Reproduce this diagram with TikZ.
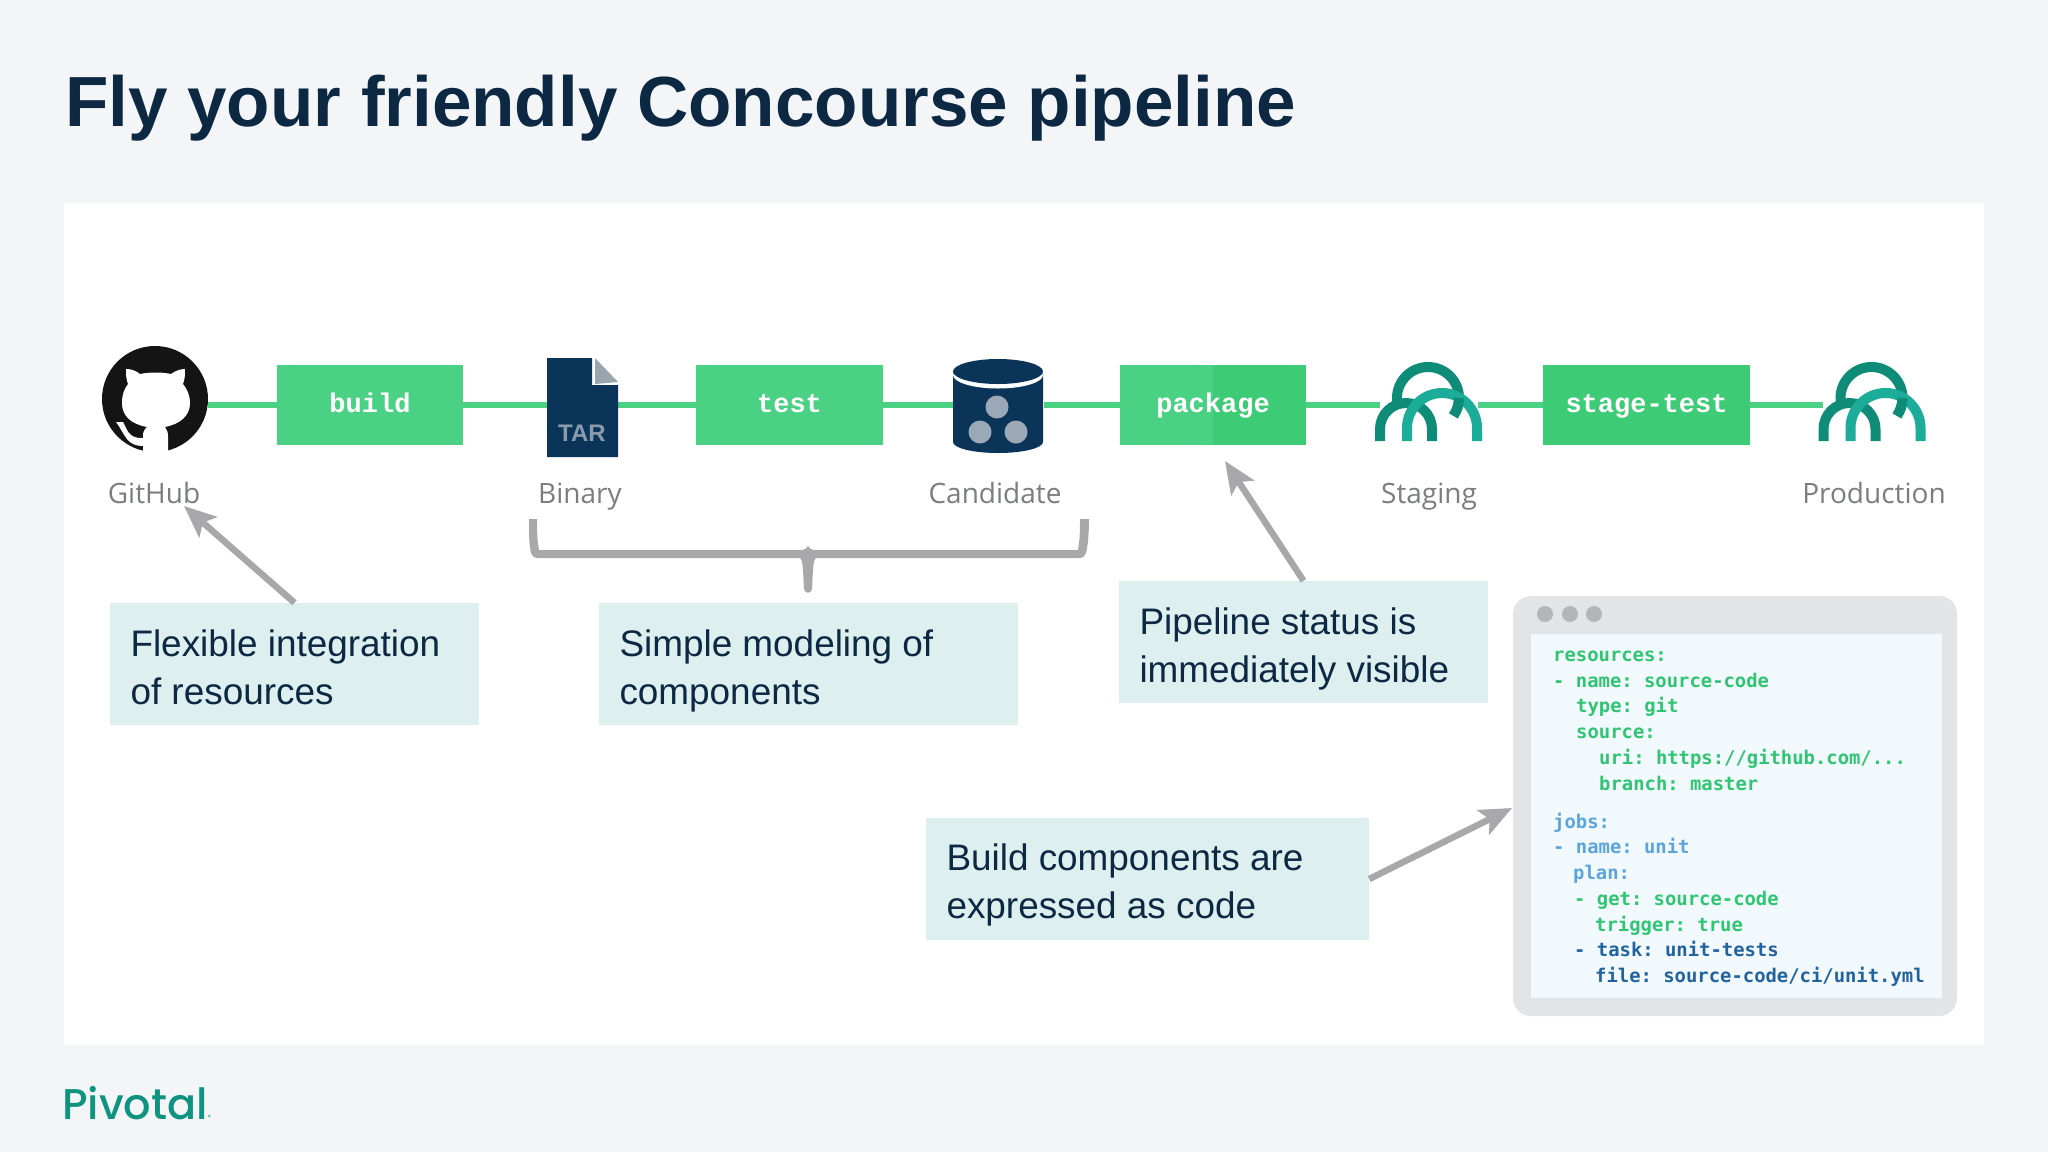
\documentclass[tikz,border=0pt]{standalone}
\usepackage{fontspec}
\setmainfont{Liberation Sans}
\newfontfamily\labelfont{Open Sans}
\newfontfamily\codefont{DejaVu Sans Mono}[BoldFont={DejaVu Sans Mono Bold}]
\newfontfamily\jobfont{Liberation Mono}
\newfontfamily\logofont{Poppins}[UprightFont={* Medium}]
\usetikzlibrary{arrows.meta}
\definecolor{pagebg}{HTML}{F4F5F7}
\definecolor{navy}{HTML}{0C2843}
\definecolor{iconnavy}{HTML}{0B3558}
\definecolor{greena}{HTML}{4BD183}
\definecolor{greenb}{HTML}{3ECB75}
\definecolor{notebg}{HTML}{DDEFEE}
\definecolor{arrowgrey}{HTML}{A8A8AB}
\definecolor{labelgrey}{HTML}{7B7D80}
\definecolor{archdark}{HTML}{0F8C78}
\definecolor{archlight}{HTML}{1BAC9A}
\definecolor{logoteal}{HTML}{0E9380}
\definecolor{codegreen}{HTML}{30C473}
\definecolor{codeblue}{HTML}{5BA4DC}
\definecolor{codedark}{HTML}{22639F}
\definecolor{winframe}{HTML}{E1E5E7}
\definecolor{winbody}{HTML}{F2F9FC}
\definecolor{windot}{HTML}{B2B6B9}
\definecolor{filegrey}{HTML}{9AA5AF}
\definecolor{dotgrey}{HTML}{9AA8B7}
\definecolor{targrey}{HTML}{8A9BAD}
\tikzset{
  jobbox/.style={fill=greena,inner sep=0,minimum height=80,text height=21,text depth=5,font=\jobfont\bfseries\fontsize{27}{27}\selectfont,text=white},
  icon/.style={inner sep=0,minimum height=80},
  notebox/.style={fill=notebg,inner sep=0,minimum height=122},
  notetext/.style={inner sep=0,anchor=west,align=left,text=navy,font=\fontsize{36.9}{48}\selectfont},
  pipe/.style={draw=greena,line width=6},
  pointer/.style={draw=arrowgrey,line width=6.5,-{Stealth[length=32,width=27,inset=7]}},
  caption/.style={inner sep=0,anchor=base,text=labelgrey,font=\labelfont\fontsize{28}{28}\selectfont},
  codeline/.style={inner sep=0,anchor=base west,font=\codefont\bfseries\fontsize{18.87}{18.87}\selectfont\frenchspacing},
  archd/.style={draw=archdark,line width=10},
  archl/.style={draw=archlight,line width=10}
}
\newcommand{\arches}[1]{%
  \begin{scope}[shift={(#1,0)}]
    \draw[archd] (1380,441) -- (1380,429) arc[start angle=180,end angle=360,radius=26] -- (1432,441);
    \draw[archd] (1397,401) -- (1397,398) arc[start angle=180,end angle=395,radius=31];
    \draw[archl] (1407,441) -- (1407,428) arc[start angle=180,end angle=360,radius=35] -- (1477,441);
    \draw[archd] (1459,398) arc[start angle=360,end angle=395,radius=31];
  \end{scope}}
\begin{document}
\begin{tikzpicture}[x=1pt,y=-1pt]
\useasboundingbox (0,0) rectangle (2048,1152);
\fill[pagebg] (0,0) rectangle (2048,1152);
\fill[white] (64,203) rectangle (1984,1045);

\node[inner sep=0,anchor=base west,text=navy,font=\bfseries\fontsize{71}{71}\selectfont] (title) at (65,126) {Fly your friendly Concourse pipeline};

% pipeline nodes
\node[icon,minimum width=106] (gh) at (155,404.5) {};
\node[jobbox,minimum width=186] (build) at (370,404.5) {build};
\node[icon,minimum width=71] (tar) at (582.5,404.5) {};
\node[jobbox,minimum width=187] (test) at (789.5,404.5) {test};
\node[icon,minimum width=91] (cand) at (998.5,404.5) {};
\node[jobbox,minimum width=186,path picture={\fill[greenb] (path picture bounding box.south) rectangle (path picture bounding box.north east);}] (package) at (1213,404.5) {package};
\node[icon,minimum width=98] (stag) at (1429,404.5) {};
\node[jobbox,fill=greenb,minimum width=207] (stagetest) at (1646.5,404.5) {stage-test};
\node[icon,minimum width=98] (prod) at (1872.5,404.5) {};

\draw[pipe] (gh.east) -- (build.west);
\draw[pipe] (build.east) -- (tar.west);
\draw[pipe] (tar.east) -- (test.west);
\draw[pipe] (test.east) -- (cand.west);
\draw[pipe] (cand.east) -- (package.west);
\draw[pipe] (package.east) -- (stag.west);
\draw[pipe] (stag.east) -- (stagetest.west);
\draw[pipe] (stagetest.east) -- (prod.west);

% GitHub mark
\fill[black!92] (155,399) circle (53);
\fill[white] (143,453) -- (143,436)
  .. controls (143,432) and (144,430) .. (147,427)
  .. controls (131,424) and (122,416) .. (122,403)
  .. controls (122,395) and (124,389) .. (128,384)
  .. controls (126,379) and (126,374) .. (126,369)
  .. controls (132,369) and (136,371) .. (140,374)
  .. controls (150,372) and (162,372) .. (171,374)
  .. controls (175,371) and (180,369) .. (185,369)
  .. controls (185,374) and (185,379) .. (183,384)
  .. controls (187,389) and (190,395) .. (190,403)
  .. controls (190,416) and (180,424) .. (165,427)
  .. controls (167,430) and (168,432) .. (168,436)
  -- (168,453) -- cycle;
\fill[white] (116,422) -- (123,422)
  .. controls (126,427) and (127,432) .. (131,435)
  .. controls (135,438) and (139,438) .. (143,438) -- (143,446)
  .. controls (136,446) and (131,444) .. (127,439)
  .. controls (123,434) and (120,427) .. (116,422) -- cycle;

% TAR file
\fill[iconnavy] (547,358) -- (592,358) -- (592,385) -- (618,385) -- (618,457) -- (547,457) -- cycle;
\fill[filegrey] (595,358) -- (618,382) -- (595,384) -- cycle;
\node[inner sep=0,text=targrey,font=\bfseries\fontsize{24}{24}\selectfont] (tartext) at (582,433) {TAR};

% candidate cylinder
\fill[iconnavy] (953,373) -- (1043,373) -- (1043,442) arc[start angle=0,end angle=180,x radius=45,y radius=11] -- cycle;
\fill[white] (998,375) ellipse [x radius=45,y radius=13.5];
\fill[iconnavy] (998,371.5) ellipse [x radius=45,y radius=12.5];
\fill[dotgrey] (997,407) circle (11.5);
\fill[dotgrey] (980,432) circle (11.5);
\fill[dotgrey] (1016,432) circle (11.5);

% Staging and Production arches
\arches{0}
\arches{443.5}

% captions
\node[caption] (lgh) at (154,503) {GitHub};
\node[caption] (lbin) at (580,503) {Binary};
\node[caption] (lcand) at (995,503) {Candidate};
\node[caption] (lstag) at (1429,503) {Staging};
\node[caption] (lprod) at (1874,503) {Production};

% note boxes
\node[notebox,minimum width=369] (n1) at (294.5,664) {};
\node[notebox,minimum width=419] (n2) at (808.5,664) {};
\node[notebox,minimum width=369] (n3) at (1303.5,642) {};
\node[notebox,minimum width=443] (n4) at (1147.5,879) {};
\node[notetext] (t1) at ([shift={(20.5,3.5)}]n1.west) {Flexible integration\\of resources};
\node[notetext] (t2) at ([shift={(20.5,7)}]n2.west) {Simple modeling of\\components};
\node[notetext] (t3) at ([shift={(20.5,7)}]n3.west) {Pipeline status is\\immediately visible};
\node[notetext] (t4) at ([shift={(20.5,6)}]n4.west) {Build components are\\expressed as code};

% pointers
\coordinate (tipgh) at (184,506);
\coordinate (tippkg) at (1225,461);
\coordinate (tipwin) at (1512,808);
\draw[pointer] (n1.north) -- (tipgh);
\draw[pointer] (n3.north) -- (tippkg);
\draw[pointer] (n4.east) -- (tipwin);

% brace
\fill[arrowgrey] (529,519) -- (537,519)
  .. controls (537,530) and (537,538) .. (539,550)
  -- (802,550) .. controls (805,550) and (807,548) .. (808,546)
  .. controls (809,548) and (811,550) .. (814,550)
  -- (1078,550) .. controls (1080,538) and (1080,530) .. (1080,519)
  -- (1089,519) .. controls (1089,532) and (1088,545) .. (1086,553)
  .. controls (1085,556) and (1083,558) .. (1079,558)
  -- (816,558) .. controls (813,560) and (813,570) .. (812,589)
  .. controls (811,594) and (805,594) .. (804,589)
  .. controls (803,570) and (803,560) .. (800,558)
  -- (538,558) .. controls (534,558) and (532,556) .. (531,553)
  .. controls (529,545) and (529,532) .. (529,519) -- cycle;

% code window
\fill[winframe,rounded corners=18] (1513,596) rectangle (1957,1016);
\fill[winbody] (1531,634) rectangle (1942,998);
\fill[windot] (1545,614) circle (8);
\fill[windot] (1570,614) circle (8);
\fill[windot] (1594,614) circle (8);
\begin{scope}[every node/.append style={codeline}]
\node[text=codegreen] (c1) at (1553,661) {resources:};
\node[text=codegreen] (c2) at (1553,687) {- name: source-code};
\node[text=codegreen] (c3) at (1576,712) {type: git};
\node[text=codegreen] (c4) at (1576,738) {source:};
\node[text=codegreen] (c5) at (1599,764) {uri: https://github.com/...};
\node[text=codegreen] (c6) at (1599,790) {branch: master};
\node[text=codeblue] (c7) at (1553,828) {jobs:};
\node[text=codeblue] (c8) at (1553,853) {- name: unit};
\node[text=codeblue] (c9) at (1573,879) {plan:};
\node[text=codegreen] (c10) at (1574,905) {- get: source-code};
\node[text=codegreen] (c11) at (1595,931) {trigger: true};
\node[text=codedark] (c12) at (1574,956) {- task: unit-tests};
\node[text=codedark] (c13) at (1595,982) {file: source-code/ci/unit.yml};
\end{scope}

% logo
\node[inner sep=0,anchor=base west,text=logoteal,font=\logofont\fontsize{43}{43}\selectfont] (logo) at (62,1119) {Pivotal\raisebox{0pt}{\fontsize{6}{6}\selectfont ®}};
\end{tikzpicture}
\end{document}
